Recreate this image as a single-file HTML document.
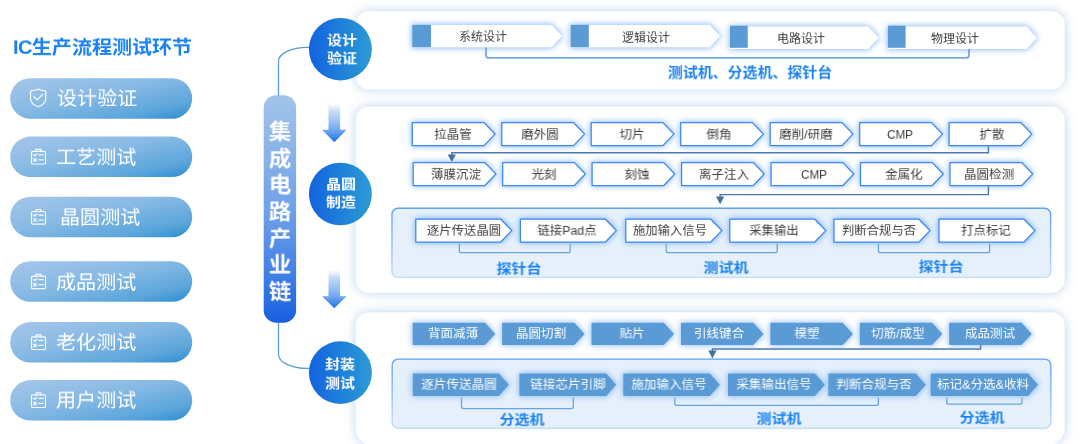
<!DOCTYPE html>
<html lang="zh-CN"><head><meta charset="utf-8"><title>IC生产流程测试环节</title>
<style>
html,body{margin:0;padding:0;background:#fff;}
body{width:1080px;height:444px;overflow:hidden;position:relative;font-family:"Liberation Sans","Noto Sans CJK SC",sans-serif;}
#wrap{position:absolute;left:0;top:0;width:1080px;height:444px;overflow:hidden;}
svg{position:absolute;left:0;top:0;}
.t{position:absolute;white-space:nowrap;line-height:1;will-change:transform;}
.pnls{fill:#93b8e6;opacity:.64;filter:url(#b6);}
.ln{fill:none;stroke:#5b9bd5;stroke-width:1.3;}
.br{fill:none;stroke:#6aa5e3;stroke-width:1.3;}
.cn{fill:none;stroke:#4a79ae;stroke-width:1.45;}
.ic{fill:none;stroke:#fff;stroke-width:1.2;stroke-linejoin:round;stroke-linecap:round;opacity:.92}
.pag{fill:#559cf2;stroke:#559cf2;stroke-width:1.2;opacity:.72;filter:url(#b2);}
.pa{fill:#fff;}
.pbg{fill:#559cf2;stroke:#559cf2;stroke-width:1.2;opacity:.82;filter:url(#b2);}
.pb{fill:#fff;stroke:#4088ee;stroke-width:1.25;}
.pcg{fill:#559cf2;stroke:#559cf2;stroke-width:1.2;opacity:.66;filter:url(#b2);}
.pc{fill:#5b9bd5;}
.ing{fill:#8fb6f2;opacity:.12;filter:url(#b2);}
.inn{fill:#e5f0fa;stroke:url(#gi);stroke-width:1.4;}
</style></head><body><div id="wrap">
<svg width="1080" height="444" viewBox="0 0 1080 444">
<defs>
<filter id="b6" x="-10%" y="-30%" width="120%" height="160%"><feGaussianBlur stdDeviation="5.5"/></filter>
<filter id="b2" x="-20%" y="-50%" width="140%" height="200%"><feGaussianBlur stdDeviation="3"/></filter>
<linearGradient id="gp" x1="0" y1="0" x2="1" y2="1"><stop offset="0" stop-color="#a6c6ea"/><stop offset="0.45" stop-color="#86b9e4"/><stop offset="0.8" stop-color="#5aa5db"/><stop offset="1" stop-color="#2a8ccf"/></linearGradient>
<linearGradient id="gi" x1="0" y1="0" x2="0" y2="1"><stop offset="0" stop-color="#62a2f4"/><stop offset="0.5" stop-color="#8fbdf3"/><stop offset="1" stop-color="#c6def5"/></linearGradient>
<linearGradient id="gv" x1="0" y1="0" x2="0" y2="1"><stop offset="0" stop-color="#a2c4e9"/><stop offset="0.5" stop-color="#70a2e8"/><stop offset="0.8" stop-color="#3f7ee5"/><stop offset="1" stop-color="#185ee0"/></linearGradient>
<linearGradient id="gc" x1="0" y1="0" x2="1" y2="0"><stop offset="0" stop-color="#1263e0"/><stop offset="1" stop-color="#2c9bd4"/></linearGradient>
<linearGradient id="ga104" gradientUnits="userSpaceOnUse" x1="0" y1="104" x2="0" y2="142"><stop offset="0" stop-color="#ffffff"/><stop offset="0.2" stop-color="#c6dbf8"/><stop offset="0.45" stop-color="#9cc3f4"/><stop offset="0.7" stop-color="#6ea6ef"/><stop offset="1" stop-color="#1f6fe8"/></linearGradient>
<linearGradient id="ga270" gradientUnits="userSpaceOnUse" x1="0" y1="270" x2="0" y2="308.5"><stop offset="0" stop-color="#ffffff"/><stop offset="0.2" stop-color="#c6dbf8"/><stop offset="0.45" stop-color="#9cc3f4"/><stop offset="0.7" stop-color="#6ea6ef"/><stop offset="1" stop-color="#1f6fe8"/></linearGradient>
</defs>
<path d="M369.1,11H1051.2A13.5,13.5 0 0 1 1064.7,24.5V76.2A13.5,13.5 0 0 1 1051.2,89.7H369.1A13.5,13.5 0 0 1 355.6,76.2V24.5A13.5,13.5 0 0 1 369.1,11Z" class="pnls"/>
<path d="M369.1,106.5H1051.2A13.5,13.5 0 0 1 1064.7,120.0V279.5A13.5,13.5 0 0 1 1051.2,293H369.1A13.5,13.5 0 0 1 355.6,279.5V120.0A13.5,13.5 0 0 1 369.1,106.5Z" class="pnls"/>
<path d="M369.1,312.3H1051.2A13.5,13.5 0 0 1 1064.7,325.8V428A18,18 0 0 1 1046.7,446H373.6A18,18 0 0 1 355.6,428V325.8A13.5,13.5 0 0 1 369.1,312.3Z" class="pnls"/>
<path d="M369.1,11H1051.2A13.5,13.5 0 0 1 1064.7,24.5V76.2A13.5,13.5 0 0 1 1051.2,89.7H369.1A13.5,13.5 0 0 1 355.6,76.2V24.5A13.5,13.5 0 0 1 369.1,11Z" fill="#fff"/>
<path d="M369.1,106.5H1051.2A13.5,13.5 0 0 1 1064.7,120.0V279.5A13.5,13.5 0 0 1 1051.2,293H369.1A13.5,13.5 0 0 1 355.6,279.5V120.0A13.5,13.5 0 0 1 369.1,106.5Z" fill="#fff"/>
<path d="M369.1,312.3H1051.2A13.5,13.5 0 0 1 1064.7,325.8V428A18,18 0 0 1 1046.7,446H373.6A18,18 0 0 1 355.6,428V325.8A13.5,13.5 0 0 1 369.1,312.3Z" fill="#fff"/>
<path d="M278.5,96V61.3A29,14 0 0 1 307.5,47.3H310" class="ln"/>
<path d="M278.5,321V354.4A29,14 0 0 0 307.5,368.4H310" class="ln"/>
<rect x="263.7" y="95.2" width="32.4" height="227.5" rx="12.5" fill="url(#gv)"/>
<ellipse cx="340.4" cy="49.2" rx="31.5" ry="31.3" fill="url(#gc)"/>
<ellipse cx="340.4" cy="194" rx="31.5" ry="31.3" fill="url(#gc)"/>
<ellipse cx="340.4" cy="372.6" rx="31.5" ry="31.3" fill="url(#gc)"/>
<path d="M328.5,104H340.1V129.8H346.6L334.3,142.3L322,129.8H328.5Z" fill="url(#ga104)"/>
<path d="M328.5,270H340.1V296.2H346.6L334.3,308.2L322,296.2H328.5Z" fill="url(#ga270)"/>
<rect x="10.2" y="78.19999999999999" width="182" height="40.5" rx="20.2" fill="url(#gp)"/>
<g transform="translate(38.15,97.9)" class="ic"><path d="M0,-8.9 C-1.5,-7.7 -4,-7.2 -6.3,-7.2 Q-7.6,-7.2 -7.6,-5.9 V0.8 C-7.6,4.7 -4,7.3 0,8.8 C4,7.3 7.6,4.7 7.6,0.8 V-5.9 Q7.6,-7.2 6.3,-7.2 C4,-7.2 1.5,-7.7 0,-8.9Z"/><path d="M-4.2,-1.2 L-0.9,2 L4.7,-3.8"/></g>
<rect x="10.2" y="136.6" width="182" height="40.5" rx="20.2" fill="url(#gp)"/>
<g transform="translate(38.5,156.4)" class="ic"><rect x="-7" y="-5" width="14" height="12.6" rx="1.3"/><path d="M-2.7,-5 V-6.2 Q-2.7,-7 -1.9,-7 H1.9 Q2.7,-7 2.7,-6.2 V-5"/><path d="M-4.9,-1.6 L-3.8,-0.5 L-1.7,-2.6 M0.4,-1.4 H4.6 M-4.8,2.3 L-2.2,4.9 M-2.2,2.3 L-4.8,4.9 M0.4,3.6 H4.6" style="stroke-width:1.25"/></g>
<rect x="10.2" y="196.7" width="182" height="40.5" rx="20.2" fill="url(#gp)"/>
<g transform="translate(38.5,216.5)" class="ic"><rect x="-7" y="-5" width="14" height="12.6" rx="1.3"/><path d="M-2.7,-5 V-6.2 Q-2.7,-7 -1.9,-7 H1.9 Q2.7,-7 2.7,-6.2 V-5"/><path d="M-4.9,-1.6 L-3.8,-0.5 L-1.7,-2.6 M0.4,-1.4 H4.6 M-4.8,2.3 L-2.2,4.9 M-2.2,2.3 L-4.8,4.9 M0.4,3.6 H4.6" style="stroke-width:1.25"/></g>
<rect x="10.2" y="261.3" width="182" height="40.5" rx="20.2" fill="url(#gp)"/>
<g transform="translate(38.5,281.1)" class="ic"><rect x="-7" y="-5" width="14" height="12.6" rx="1.3"/><path d="M-2.7,-5 V-6.2 Q-2.7,-7 -1.9,-7 H1.9 Q2.7,-7 2.7,-6.2 V-5"/><path d="M-4.9,-1.6 L-3.8,-0.5 L-1.7,-2.6 M0.4,-1.4 H4.6 M-4.8,2.3 L-2.2,4.9 M-2.2,2.3 L-4.8,4.9 M0.4,3.6 H4.6" style="stroke-width:1.25"/></g>
<rect x="10.2" y="322.1" width="182" height="40.5" rx="20.2" fill="url(#gp)"/>
<g transform="translate(38.5,341.9)" class="ic"><rect x="-7" y="-5" width="14" height="12.6" rx="1.3"/><path d="M-2.7,-5 V-6.2 Q-2.7,-7 -1.9,-7 H1.9 Q2.7,-7 2.7,-6.2 V-5"/><path d="M-4.9,-1.6 L-3.8,-0.5 L-1.7,-2.6 M0.4,-1.4 H4.6 M-4.8,2.3 L-2.2,4.9 M-2.2,2.3 L-4.8,4.9 M0.4,3.6 H4.6" style="stroke-width:1.25"/></g>
<rect x="10.2" y="380.1" width="182" height="40.5" rx="20.2" fill="url(#gp)"/>
<g transform="translate(38.5,399.9)" class="ic"><rect x="-7" y="-5" width="14" height="12.6" rx="1.3"/><path d="M-2.7,-5 V-6.2 Q-2.7,-7 -1.9,-7 H1.9 Q2.7,-7 2.7,-6.2 V-5"/><path d="M-4.9,-1.6 L-3.8,-0.5 L-1.7,-2.6 M0.4,-1.4 H4.6 M-4.8,2.3 L-2.2,4.9 M-2.2,2.3 L-4.8,4.9 M0.4,3.6 H4.6" style="stroke-width:1.25"/></g>
<rect x="392" y="208.3" width="658.6" height="69.1" rx="6" class="ing"/><rect x="392" y="208.3" width="658.6" height="69.1" rx="6" class="inn"/>
<rect x="392.2" y="359.1" width="658.6" height="69.1" rx="6" class="ing"/><rect x="392.2" y="359.1" width="658.6" height="69.1" rx="6" class="inn"/>
<path d="M486,47.3V54.9Q486,57.9 489,57.9H966Q969,57.9 969,54.9V48.9" class="br" style="stroke-width:1.8;stroke:#74aae6"/>
<path d="M988.4,145.6V152.7H451.8V155" class="cn"/>
<path d="M988.4,185.5V194.6H720.1V197" class="cn"/>
<path d="M459.3,243.8V250.7Q459.3,252.7 461.3,252.7H568.2Q570.2,252.7 570.2,250.7V243.8" class="br"/>
<path d="M666.2,243.8V250.7Q666.2,252.7 668.2,252.7H775.2Q777.2,252.7 777.2,250.7V243.8" class="br"/>
<path d="M878.4,243.8V250.7Q878.4,252.7 880.4,252.7H987.6Q989.6,252.7 989.6,250.7V243.8" class="br"/>
<path d="M980.6,345V349H712.4V352" class="cn"/>
<path d="M461.5,397.7V406.6Q461.5,408.6 463.5,408.6H571.3Q573.3,408.6 573.3,406.6V397.7" class="br"/>
<path d="M674.8,397.7V403.4Q674.8,405.4 676.8,405.4H876.4Q878.4,405.4 878.4,403.4V397.7" class="br"/>
<path d="M946.8,397.7V402.2Q946.8,404.2 948.8,404.2H1020Q1022,404.2 1022,402.2V397.7" class="br"/>
<path d="M412.2,24.9H551.6L562,36.099999999999994L551.6,47.3H412.2Z" class="pag"/>
<path d="M412.2,24.9H551.6L562,36.099999999999994L551.6,47.3H412.2Z" class="pa"/>
<rect x="412.2" y="24.9" width="18.8" height="22.2" fill="#5b9bd5"/>
<path d="M570.7,24.9H709.8000000000001L720.2,36.099999999999994L709.8000000000001,47.3H570.7Z" class="pag"/>
<path d="M570.7,24.9H709.8000000000001L720.2,36.099999999999994L709.8000000000001,47.3H570.7Z" class="pa"/>
<rect x="570.7" y="24.9" width="18.1" height="22.2" fill="#5b9bd5"/>
<path d="M730,26.6H868.3000000000001L878.7,37.75L868.3000000000001,48.9H730Z" class="pag"/>
<path d="M730,26.6H868.3000000000001L878.7,37.75L868.3000000000001,48.9H730Z" class="pa"/>
<rect x="730" y="25.7" width="17.7" height="22.1" fill="#5b9bd5"/>
<path d="M887.9,26.6H1026.6L1037,37.75L1026.6,48.9H887.9Z" class="pag"/>
<path d="M887.9,26.6H1026.6L1037,37.75L1026.6,48.9H887.9Z" class="pa"/>
<rect x="887.9" y="25.7" width="17.7" height="22.1" fill="#5b9bd5"/>
<path d="M412.3,122.6H484.0L495.0,134.1L484.0,145.6H412.3Z" class="pbg"/>
<path d="M412.3,122.6H484.0L495.0,134.1L484.0,145.6H412.3Z" class="pb"/>
<path d="M413.2,162.6H484.9L495.9,174.05L484.9,185.5H413.2Z" class="pbg"/>
<path d="M413.2,162.6H484.9L495.9,174.05L484.9,185.5H413.2Z" class="pb"/>
<path d="M501.8,122.6H573.5L584.5,134.1L573.5,145.6H501.8Z" class="pbg"/>
<path d="M501.8,122.6H573.5L584.5,134.1L573.5,145.6H501.8Z" class="pb"/>
<path d="M502.7,162.6H574.4L585.4,174.05L574.4,185.5H502.7Z" class="pbg"/>
<path d="M502.7,162.6H574.4L585.4,174.05L574.4,185.5H502.7Z" class="pb"/>
<path d="M591.2,122.6H662.9L673.9,134.1L662.9,145.6H591.2Z" class="pbg"/>
<path d="M591.2,122.6H662.9L673.9,134.1L662.9,145.6H591.2Z" class="pb"/>
<path d="M592.1,162.6H663.8L674.8,174.05L663.8,185.5H592.1Z" class="pbg"/>
<path d="M592.1,162.6H663.8L674.8,174.05L663.8,185.5H592.1Z" class="pb"/>
<path d="M680.7,122.6H752.4L763.4,134.1L752.4,145.6H680.7Z" class="pbg"/>
<path d="M680.7,122.6H752.4L763.4,134.1L752.4,145.6H680.7Z" class="pb"/>
<path d="M681.6,162.6H753.3L764.3,174.05L753.3,185.5H681.6Z" class="pbg"/>
<path d="M681.6,162.6H753.3L764.3,174.05L753.3,185.5H681.6Z" class="pb"/>
<path d="M770.2,122.6H841.9L852.9,134.1L841.9,145.6H770.2Z" class="pbg"/>
<path d="M770.2,122.6H841.9L852.9,134.1L841.9,145.6H770.2Z" class="pb"/>
<path d="M771.1,162.6H842.8L853.8,174.05L842.8,185.5H771.1Z" class="pbg"/>
<path d="M771.1,162.6H842.8L853.8,174.05L842.8,185.5H771.1Z" class="pb"/>
<path d="M859.7,122.6H931.4L942.4,134.1L931.4,145.6H859.7Z" class="pbg"/>
<path d="M859.7,122.6H931.4L942.4,134.1L931.4,145.6H859.7Z" class="pb"/>
<path d="M860.5,162.6H932.2L943.2,174.05L932.2,185.5H860.5Z" class="pbg"/>
<path d="M860.5,162.6H932.2L943.2,174.05L932.2,185.5H860.5Z" class="pb"/>
<path d="M949.1,122.6H1020.8L1031.8,134.1L1020.8,145.6H949.1Z" class="pbg"/>
<path d="M949.1,122.6H1020.8L1031.8,134.1L1020.8,145.6H949.1Z" class="pb"/>
<path d="M950.0,162.6H1021.7L1032.7,174.05L1021.7,185.5H950.0Z" class="pbg"/>
<path d="M950.0,162.6H1021.7L1032.7,174.05L1021.7,185.5H950.0Z" class="pb"/>
<path d="M415.8,219.2H500.8L511.8,230.6L500.8,242H415.8Z" class="pbg"/>
<path d="M415.8,219.2H500.8L511.8,230.6L500.8,242H415.8Z" class="pb"/>
<path d="M520.4,219.2H605.4L616.4,230.6L605.4,242H520.4Z" class="pbg"/>
<path d="M520.4,219.2H605.4L616.4,230.6L605.4,242H520.4Z" class="pb"/>
<path d="M625.8,219.2H710.8L721.8,230.6L710.8,242H625.8Z" class="pbg"/>
<path d="M625.8,219.2H710.8L721.8,230.6L710.8,242H625.8Z" class="pb"/>
<path d="M729.8,219.2H814.8L825.8,230.6L814.8,242H729.8Z" class="pbg"/>
<path d="M729.8,219.2H814.8L825.8,230.6L814.8,242H729.8Z" class="pb"/>
<path d="M834,219.2H919L930,230.6L919,242H834Z" class="pbg"/>
<path d="M834,219.2H919L930,230.6L919,242H834Z" class="pb"/>
<path d="M939,219.2H1024L1035,230.6L1024,242H939Z" class="pbg"/>
<path d="M939,219.2H1024L1035,230.6L1024,242H939Z" class="pb"/>
<path d="M412.7,322.8H485.0L495.3,333.9L485.0,345H412.7Z" class="pcg"/>
<path d="M412.7,322.8H485.0L495.3,333.9L485.0,345H412.7Z" class="pc"/>
<path d="M502.1,322.8H574.4000000000001L584.7,333.9L574.4000000000001,345H502.1Z" class="pcg"/>
<path d="M502.1,322.8H574.4000000000001L584.7,333.9L574.4000000000001,345H502.1Z" class="pc"/>
<path d="M591.5,322.8H663.8000000000001L674.1,333.9L663.8000000000001,345H591.5Z" class="pcg"/>
<path d="M591.5,322.8H663.8000000000001L674.1,333.9L663.8000000000001,345H591.5Z" class="pc"/>
<path d="M681.0,322.8H753.3000000000001L763.6,333.9L753.3000000000001,345H681.0Z" class="pcg"/>
<path d="M681.0,322.8H753.3000000000001L763.6,333.9L753.3000000000001,345H681.0Z" class="pc"/>
<path d="M770.4,322.8H842.7L853.0,333.9L842.7,345H770.4Z" class="pcg"/>
<path d="M770.4,322.8H842.7L853.0,333.9L842.7,345H770.4Z" class="pc"/>
<path d="M859.8,322.8H932.1L942.4,333.9L932.1,345H859.8Z" class="pcg"/>
<path d="M859.8,322.8H932.1L942.4,333.9L932.1,345H859.8Z" class="pc"/>
<path d="M949.2,322.8H1021.5L1031.8,333.9L1021.5,345H949.2Z" class="pcg"/>
<path d="M949.2,322.8H1021.5L1031.8,333.9L1021.5,345H949.2Z" class="pc"/>
<path d="M412.9,373.5H498.9L508.9,384.7L498.9,395.9H412.9Z" class="pcg"/>
<path d="M412.9,373.5H498.9L508.9,384.7L498.9,395.9H412.9Z" class="pc"/>
<path d="M519.4,373.5H606.2L616.2,384.7L606.2,395.9H519.4Z" class="pcg"/>
<path d="M519.4,373.5H606.2L616.2,384.7L606.2,395.9H519.4Z" class="pc"/>
<path d="M623.3,373.5H709.9L719.9,384.7L709.9,395.9H623.3Z" class="pcg"/>
<path d="M623.3,373.5H709.9L719.9,384.7L709.9,395.9H623.3Z" class="pc"/>
<path d="M728,373.5H814.9L824.9,384.7L814.9,395.9H728Z" class="pcg"/>
<path d="M728,373.5H814.9L824.9,384.7L814.9,395.9H728Z" class="pc"/>
<path d="M828.4,373.5H915.8L925.8,384.7L915.8,395.9H828.4Z" class="pcg"/>
<path d="M828.4,373.5H915.8L925.8,384.7L915.8,395.9H828.4Z" class="pc"/>
<path d="M930.7,373.5H1028.1L1038.1,384.7L1028.1,395.9H930.7Z" class="pcg"/>
<path d="M930.7,373.5H1028.1L1038.1,384.7L1028.1,395.9H930.7Z" class="pc"/>
<path d="M447.7,154.4H455.9L451.8,162Z" fill="#41719c"/>
<path d="M716,196.4H724.2L720.1,204.2Z" fill="#41719c"/>
<path d="M708.3,350.4H716.5L712.4,358.4Z" fill="#41719c"/>
</svg>
<div class="t" style="left:341.6px;top:39.9px;font-size:14.1px;color:#fff;font-weight:bold;transform:translate(-50%,-50%) scale(1.06,0.95);transform-origin:center;">设计</div>
<div class="t" style="left:341.6px;top:58.3px;font-size:14.1px;color:#fff;font-weight:bold;transform:translate(-50%,-50%) scale(1.06,0.95);transform-origin:center;">验证</div>
<div class="t" style="left:340.6px;top:184.1px;font-size:14.1px;color:#fff;font-weight:bold;transform:translate(-50%,-50%) scale(1.06,0.95);transform-origin:center;">晶圆</div>
<div class="t" style="left:340.6px;top:201.9px;font-size:14.1px;color:#fff;font-weight:bold;transform:translate(-50%,-50%) scale(1.06,0.95);transform-origin:center;">制造</div>
<div class="t" style="left:340.4px;top:364.3px;font-size:14.1px;color:#fff;font-weight:bold;transform:translate(-50%,-50%) scale(1.06,0.95);transform-origin:center;">封装</div>
<div class="t" style="left:340.4px;top:382.9px;font-size:14.1px;color:#fff;font-weight:bold;transform:translate(-50%,-50%) scale(1.06,0.95);transform-origin:center;">测试</div>
<div class="t" style="left:280.3px;top:131.6px;font-size:22px;color:#fff;font-weight:bold;transform:translate(-50%,-50%) scale(1.02,0.96);transform-origin:center;">集</div>
<div class="t" style="left:280.3px;top:159.2px;font-size:22px;color:#fff;font-weight:bold;transform:translate(-50%,-50%) scale(1.02,0.96);transform-origin:center;">成</div>
<div class="t" style="left:280.3px;top:185.4px;font-size:22px;color:#fff;font-weight:bold;transform:translate(-50%,-50%) scale(1.02,0.96);transform-origin:center;">电</div>
<div class="t" style="left:280.3px;top:211.75px;font-size:22px;color:#fff;font-weight:bold;transform:translate(-50%,-50%) scale(1.02,0.96);transform-origin:center;">路</div>
<div class="t" style="left:280.3px;top:238.8px;font-size:22px;color:#fff;font-weight:bold;transform:translate(-50%,-50%) scale(1.02,0.96);transform-origin:center;">产</div>
<div class="t" style="left:280.3px;top:265.45px;font-size:22px;color:#fff;font-weight:bold;transform:translate(-50%,-50%) scale(1.02,0.96);transform-origin:center;">业</div>
<div class="t" style="left:280.3px;top:291.9px;font-size:22px;color:#fff;font-weight:bold;transform:translate(-50%,-50%) scale(1.02,0.96);transform-origin:center;">链</div>
<div class="t" style="left:12.8px;top:47.6px;font-size:19.8px;color:#1a82f0;font-weight:bold;transform:translate(0,-50%) scale(1.013,0.96);transform-origin:left center;"><span style="letter-spacing:-0.6px">IC</span>生产流程测试环节</div>
<div class="t" style="left:56.8px;top:99.4px;font-size:19.7px;color:#fff;font-weight:normal;transform:translate(0,-50%) scale(1.02,0.98);transform-origin:left center;">设计验证</div>
<div class="t" style="left:55.8px;top:157.8px;font-size:19.7px;color:#fff;font-weight:normal;transform:translate(0,-50%) scale(1.02,0.98);transform-origin:left center;">工艺测试</div>
<div class="t" style="left:60px;top:217.9px;font-size:19.7px;color:#fff;font-weight:normal;transform:translate(0,-50%) scale(1.02,0.98);transform-origin:left center;">晶圆测试</div>
<div class="t" style="left:55.8px;top:282.5px;font-size:19.7px;color:#fff;font-weight:normal;transform:translate(0,-50%) scale(1.02,0.98);transform-origin:left center;">成品测试</div>
<div class="t" style="left:55.8px;top:343.3px;font-size:19.7px;color:#fff;font-weight:normal;transform:translate(0,-50%) scale(1.02,0.98);transform-origin:left center;">老化测试</div>
<div class="t" style="left:55.8px;top:401.3px;font-size:19.7px;color:#fff;font-weight:normal;transform:translate(0,-50%) scale(1.02,0.98);transform-origin:left center;">用户测试</div>
<div class="t" style="left:482.5px;top:37.2px;font-size:12px;color:#3c3c3c;font-weight:normal;transform:translate(-50%,-50%) scale(1.0,0.96);transform-origin:center;">系统设计</div>
<div class="t" style="left:646px;top:37.5px;font-size:12px;color:#3c3c3c;font-weight:normal;transform:translate(-50%,-50%) scale(1.0,0.96);transform-origin:center;">逻辑设计</div>
<div class="t" style="left:801.3px;top:38.5px;font-size:12px;color:#3c3c3c;font-weight:normal;transform:translate(-50%,-50%) scale(1.0,0.96);transform-origin:center;">电路设计</div>
<div class="t" style="left:954.6px;top:39.0px;font-size:12px;color:#3c3c3c;font-weight:normal;transform:translate(-50%,-50%) scale(1.0,0.96);transform-origin:center;">物理设计</div>
<div class="t" style="left:750.4px;top:73.1px;font-size:14.8px;color:#1a82f0;font-weight:bold;transform:translate(-50%,-50%) scale(1.01,0.96);transform-origin:center;">测试机、分选机、探针台</div>
<div class="t" style="left:453.1px;top:135.3px;font-size:12.3px;color:#3c3c3c;font-weight:normal;transform:translate(-50%,-50%) scale(1.02,0.96);transform-origin:center;">拉晶管</div>
<div class="t" style="left:456.2px;top:175.0px;font-size:12.3px;color:#3c3c3c;font-weight:normal;transform:translate(-50%,-50%) scale(1.02,0.96);transform-origin:center;">薄膜沉淀</div>
<div class="t" style="left:540px;top:135.3px;font-size:12.3px;color:#3c3c3c;font-weight:normal;transform:translate(-50%,-50%) scale(1.02,0.96);transform-origin:center;">磨外圆</div>
<div class="t" style="left:544.4px;top:175.0px;font-size:12.3px;color:#3c3c3c;font-weight:normal;transform:translate(-50%,-50%) scale(1.02,0.96);transform-origin:center;">光刻</div>
<div class="t" style="left:631.5px;top:135.3px;font-size:12.3px;color:#3c3c3c;font-weight:normal;transform:translate(-50%,-50%) scale(1.02,0.96);transform-origin:center;">切片</div>
<div class="t" style="left:637.2px;top:175.0px;font-size:12.3px;color:#3c3c3c;font-weight:normal;transform:translate(-50%,-50%) scale(1.02,0.96);transform-origin:center;">刻蚀</div>
<div class="t" style="left:718.5px;top:135.3px;font-size:12.3px;color:#3c3c3c;font-weight:normal;transform:translate(-50%,-50%) scale(1.02,0.96);transform-origin:center;">倒角</div>
<div class="t" style="left:724.4px;top:175.0px;font-size:12.3px;color:#3c3c3c;font-weight:normal;transform:translate(-50%,-50%) scale(1.02,0.96);transform-origin:center;">离子注入</div>
<div class="t" style="left:806px;top:135.3px;font-size:12.3px;color:#3c3c3c;font-weight:normal;transform:translate(-50%,-50%) scale(1.02,0.96);transform-origin:center;">磨削/研磨</div>
<div class="t" style="left:813.5px;top:175.0px;font-size:12.3px;color:#3c3c3c;font-weight:normal;transform:translate(-50%,-50%) scale(0.95,0.96);transform-origin:center;">CMP</div>
<div class="t" style="left:900.4px;top:135.3px;font-size:12.3px;color:#3c3c3c;font-weight:normal;transform:translate(-50%,-50%) scale(0.95,0.96);transform-origin:center;">CMP</div>
<div class="t" style="left:903.7px;top:175.0px;font-size:12.3px;color:#3c3c3c;font-weight:normal;transform:translate(-50%,-50%) scale(1.02,0.96);transform-origin:center;">金属化</div>
<div class="t" style="left:992px;top:135.3px;font-size:12.3px;color:#3c3c3c;font-weight:normal;transform:translate(-50%,-50%) scale(1.02,0.96);transform-origin:center;">扩散</div>
<div class="t" style="left:989.3px;top:175.0px;font-size:12.3px;color:#3c3c3c;font-weight:normal;transform:translate(-50%,-50%) scale(1.02,0.96);transform-origin:center;">晶圆检测</div>
<div class="t" style="left:463.7px;top:231.3px;font-size:12.3px;color:#3c3c3c;font-weight:normal;transform:translate(-50%,-50%) scale(1.005,0.96);transform-origin:center;">逐片传送晶圆</div>
<div class="t" style="left:567.1px;top:231.3px;font-size:12.3px;color:#3c3c3c;font-weight:normal;transform:translate(-50%,-50%) scale(1.005,0.96);transform-origin:center;">链接Pad点</div>
<div class="t" style="left:669.9px;top:231.3px;font-size:12.3px;color:#3c3c3c;font-weight:normal;transform:translate(-50%,-50%) scale(1.005,0.96);transform-origin:center;">施加输入信号</div>
<div class="t" style="left:774px;top:231.3px;font-size:12.3px;color:#3c3c3c;font-weight:normal;transform:translate(-50%,-50%) scale(1.005,0.96);transform-origin:center;">采集输出</div>
<div class="t" style="left:878.5px;top:231.3px;font-size:12.3px;color:#3c3c3c;font-weight:normal;transform:translate(-50%,-50%) scale(1.005,0.96);transform-origin:center;">判断合规与否</div>
<div class="t" style="left:986px;top:231.3px;font-size:12.3px;color:#3c3c3c;font-weight:normal;transform:translate(-50%,-50%) scale(1.005,0.96);transform-origin:center;">打点标记</div>
<div class="t" style="left:519.0px;top:268.9px;font-size:14.4px;color:#1a82f0;font-weight:bold;transform:translate(-50%,-50%) scale(1.04,0.9);transform-origin:center;">探针台</div>
<div class="t" style="left:725.7px;top:267.9px;font-size:14.4px;color:#1a82f0;font-weight:bold;transform:translate(-50%,-50%) scale(1.04,0.9);transform-origin:center;">测试机</div>
<div class="t" style="left:940.8000000000001px;top:267.2px;font-size:14.4px;color:#1a82f0;font-weight:bold;transform:translate(-50%,-50%) scale(1.04,0.9);transform-origin:center;">探针台</div>
<div class="t" style="left:453px;top:334.0px;font-size:12.3px;color:#fff;font-weight:normal;transform:translate(-50%,-50%) scale(1.02,0.96);transform-origin:center;">背面减薄</div>
<div class="t" style="left:540.5px;top:334.0px;font-size:12.3px;color:#fff;font-weight:normal;transform:translate(-50%,-50%) scale(1.02,0.96);transform-origin:center;">晶圆切割</div>
<div class="t" style="left:631.5px;top:334.0px;font-size:12.3px;color:#fff;font-weight:normal;transform:translate(-50%,-50%) scale(1.02,0.96);transform-origin:center;">贴片</div>
<div class="t" style="left:718.8px;top:334.0px;font-size:12.3px;color:#fff;font-weight:normal;transform:translate(-50%,-50%) scale(1.02,0.96);transform-origin:center;">引线键合</div>
<div class="t" style="left:806.6px;top:334.0px;font-size:12.3px;color:#fff;font-weight:normal;transform:translate(-50%,-50%) scale(1.02,0.96);transform-origin:center;">模塑</div>
<div class="t" style="left:897.5px;top:334.0px;font-size:12.3px;color:#fff;font-weight:normal;transform:translate(-50%,-50%) scale(1.02,0.96);transform-origin:center;">切筋/成型</div>
<div class="t" style="left:989.6px;top:334.0px;font-size:12.3px;color:#fff;font-weight:normal;transform:translate(-50%,-50%) scale(1.02,0.96);transform-origin:center;">成品测试</div>
<div class="t" style="left:458.7px;top:385.2px;font-size:12.3px;color:#fff;font-weight:normal;transform:translate(-50%,-50%) scale(1.02,0.96);transform-origin:center;">逐片传送晶圆</div>
<div class="t" style="left:568px;top:385.2px;font-size:12.3px;color:#fff;font-weight:normal;transform:translate(-50%,-50%) scale(1.02,0.96);transform-origin:center;">链接芯片引脚</div>
<div class="t" style="left:669px;top:385.2px;font-size:12.3px;color:#fff;font-weight:normal;transform:translate(-50%,-50%) scale(1.02,0.96);transform-origin:center;">施加输入信号</div>
<div class="t" style="left:774.4px;top:385.2px;font-size:12.3px;color:#fff;font-weight:normal;transform:translate(-50%,-50%) scale(1.02,0.96);transform-origin:center;">采集输出信号</div>
<div class="t" style="left:873.5px;top:385.2px;font-size:12.3px;color:#fff;font-weight:normal;transform:translate(-50%,-50%) scale(1.02,0.96);transform-origin:center;">判断合规与否</div>
<div class="t" style="left:983px;top:385.2px;font-size:12.3px;color:#fff;font-weight:normal;transform:translate(-50%,-50%) scale(1.02,0.96);transform-origin:center;">标记&amp;分选&amp;收料</div>
<div class="t" style="left:521.8000000000001px;top:419.7px;font-size:14.4px;color:#1a82f0;font-weight:bold;transform:translate(-50%,-50%) scale(1.04,0.9);transform-origin:center;">分选机</div>
<div class="t" style="left:778.8000000000001px;top:418.5px;font-size:14.4px;color:#1a82f0;font-weight:bold;transform:translate(-50%,-50%) scale(1.04,0.9);transform-origin:center;">测试机</div>
<div class="t" style="left:982.3000000000001px;top:418.2px;font-size:14.4px;color:#1a82f0;font-weight:bold;transform:translate(-50%,-50%) scale(1.04,0.9);transform-origin:center;">分选机</div>
</div></body></html>
